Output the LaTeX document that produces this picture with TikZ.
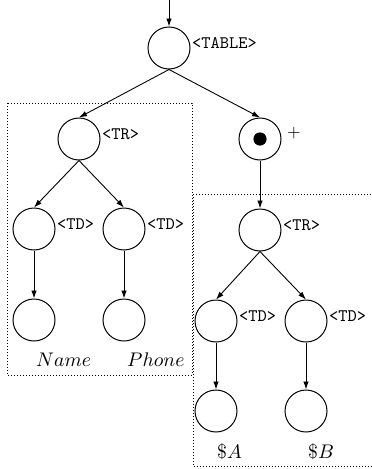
\documentclass[tikz,border=0pt]{standalone}
\usepackage{graphicx}
\usetikzlibrary{arrows.meta}
\newcommand{\tagtext}[1]{\scalebox{1.76}{\ttfamily #1}}
\newcommand{\leaftext}[1]{\scalebox{1.97}{#1}}
\begin{document}
\begin{tikzpicture}[x=1pt,y=-1pt,
  vert/.style={circle,draw,minimum size=42pt,inner sep=0pt,line width=1pt},
  tag/.style={anchor=west,inner sep=1.5pt,yshift=4.5pt},
  leaflabel/.style={anchor=west,inner sep=0pt},
  link/.style={-{Latex[length=8pt,width=5.5pt]},line width=0.9pt},
  region/.style={dotted,line width=1pt}]
\useasboundingbox (0,0) rectangle (372,469);

% dotted regions around the two sub-trees
\draw[region] (7,103) rectangle (192,375);
\draw[region] (193,194) -- (193,466) -- (380,466);
\draw[region] (193,194) -- (380,194);

% vertices
\coordinate (entry) at (169,0);
\node[vert] (table) at (169,48) {};
\node[vert] (trL) at (79,139) {};
\node[vert] (star) at (260,139) {};
\fill (star.center) circle (6.6pt);
\node[vert] (trR) at (260,230) {};
\node[vert] (tdLa) at (34,229) {};
\node[vert] (tdLb) at (124,229) {};
\node[vert] (lfLa) at (34,320) {};
\node[vert] (lfLb) at (124,320) {};
\node[vert] (tdRa) at (216,321) {};
\node[vert] (tdRb) at (306,321) {};
\node[vert] (lfRa) at (216,411) {};
\node[vert] (lfRb) at (306,411) {};

% tag labels
\node[tag] at (table.east) {\tagtext{<TABLE>}};
\node[tag] at (trL.east) {\tagtext{<TR>}};
\node[tag] at (trR.east) {\tagtext{<TR>}};
\node[tag] at (tdLa.east) {\tagtext{<TD>}};
\node[tag] at (tdLb.east) {\tagtext{<TD>}};
\node[tag] at (tdRa.east) {\tagtext{<TD>}};
\node[tag] at (tdRb.east) {\tagtext{<TD>}};
\node[inner sep=0pt] (plus) at (294,133.5) {\scalebox{1.75}{$+$}};

% leaf labels
\node[leaflabel] (nName) at (36,360) {\leaftext{$Name$}};
\node[leaflabel] (nPhone) at (127,360) {\leaftext{$Phone$}};
\node[leaflabel] (nA) at (217,452) {\leaftext{\$$A$}};
\node[leaflabel] (nB) at (308,452) {\leaftext{\$$B$}};

% connectors
\draw[link] (entry) -- (table.north);
\draw[link] (table.south) -- (trL.north);
\draw[link] (table.south) -- (star.north);
\draw[link] (star.south) -- (trR.north);
\draw[link] (trL.south) -- (tdLa.north);
\draw[link] (trL.south) -- (tdLb.north);
\draw[link] (trR.south) -- (tdRa.north);
\draw[link] (trR.south) -- (tdRb.north);
\draw[link] (tdLa.south) -- (lfLa.north);
\draw[link] (tdLb.south) -- (lfLb.north);
\draw[link] (tdRa.south) -- (lfRa.north);
\draw[link] (tdRb.south) -- (lfRb.north);
\end{tikzpicture}
\end{document}
